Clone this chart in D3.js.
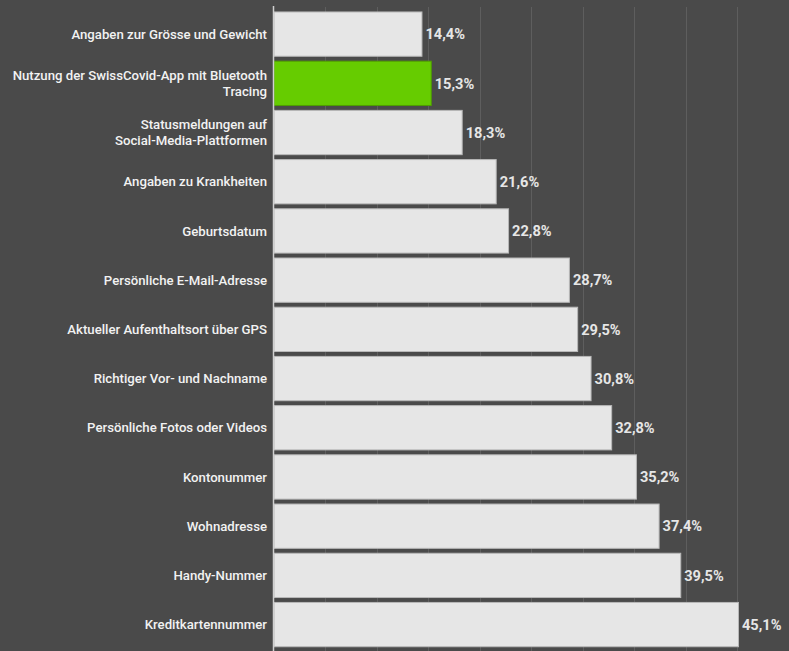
<!DOCTYPE html>
<html><head><meta charset="utf-8">
<script src="https://cdn.jsdelivr.net/npm/d3@7"></script>
<style>html,body{margin:0;padding:0;background:#4a4a4a;}svg{display:block;}</style>
</head><body>
<svg id="c" width="789" height="651"></svg>
<script>
const categories = [
  ["Angaben zur Grösse und Gewicht"],
  ["Nutzung der SwissCovid-App mit Bluetooth","Tracing"],
  ["Statusmeldungen auf","Social-Media-Plattformen"],
  ["Angaben zu Krankheiten"],
  ["Geburtsdatum"],
  ["Persönliche E-Mail-Adresse"],
  ["Aktueller Aufenthaltsort über GPS"],
  ["Richtiger Vor- und Nachname"],
  ["Persönliche Fotos oder Videos"],
  ["Kontonummer"],
  ["Wohnadresse"],
  ["Handy-Nummer"],
  ["Kreditkartennummer"]
];
const values = [14.4, 15.3, 18.3, 21.6, 22.8, 28.7, 29.5, 30.8, 32.8, 35.2, 37.4, 39.5, 45.1];
const highlightIndex = 1;
const gridTicks = [0,5,10,15,20,25,30,35,40,45,50];

const svg = d3.select("#c");
const W = 789, H = 651;
svg.append("rect").attr("width",W).attr("height",H).attr("fill","#4a4a4a");

const x = d3.scaleLinear().domain([0,50]).range([273.5, 789]);
const y = d3.scaleBand().domain(d3.range(categories.length)).range([9.5, 649.2]).paddingInner(0.1).paddingOuter(0.05);

// gridlines
svg.append("g").selectAll("line").data(gridTicks.slice(1)).join("line")
  .attr("x1", d=>Math.round(x(d))+0.5).attr("x2", d=>Math.round(x(d))+0.5)
  .attr("y1", 7).attr("y2", H)
  .attr("stroke", "#5e5e5e").attr("stroke-width", 1);

// bars
svg.append("g").selectAll("rect").data(values).join("rect")
  .attr("x", x(0)+0.5)
  .attr("y", (d,i)=>y(i))
  .attr("width", d=>x(d)-x(0)-0.5)
  .attr("height", y.bandwidth())
  .attr("fill", (d,i)=> i===highlightIndex ? "#66cc00" : "#e6e6e6")
  .attr("stroke", (d,i)=> i===highlightIndex ? "#4f9e00" : "#b8b8b8")
  .attr("stroke-width", 1);

// axis line
svg.append("line").attr("x1", 273.5).attr("x2", 273.5).attr("y1", 6).attr("y2", H)
  .attr("stroke", "#d0d0d0").attr("stroke-width", 1.5);

// category labels
const lab = svg.append("g").attr("font-family","Roboto, sans-serif").attr("font-size","13.2px")
  .attr("font-weight","500").attr("fill","#f2f2f2").attr("text-anchor","end");
categories.forEach((lines,i)=>{
  const cy = y(i) + y.bandwidth()/2;
  const lh = 16;
  const t = lab.append("text").attr("x", 267).attr("y", cy - (lines.length-1)*lh/2);
  lines.forEach((s,j)=>{
    t.append("tspan").attr("x",267).attr("dy", j===0 ? "0.35em" : lh).text(s);
  });
});

// value labels
svg.append("g").attr("font-family","Roboto, sans-serif").attr("font-size","14.6px")
  .attr("font-weight","700").attr("fill","#e6e6e6")
  .selectAll("text").data(values).join("text")
  .attr("x", d=>x(d)+3.5).attr("y",(d,i)=>y(i)+y.bandwidth()/2).attr("dy","0.36em")
  .text(d=>d.toFixed(1).replace(".",",")+"%");
</script>
</body></html>
